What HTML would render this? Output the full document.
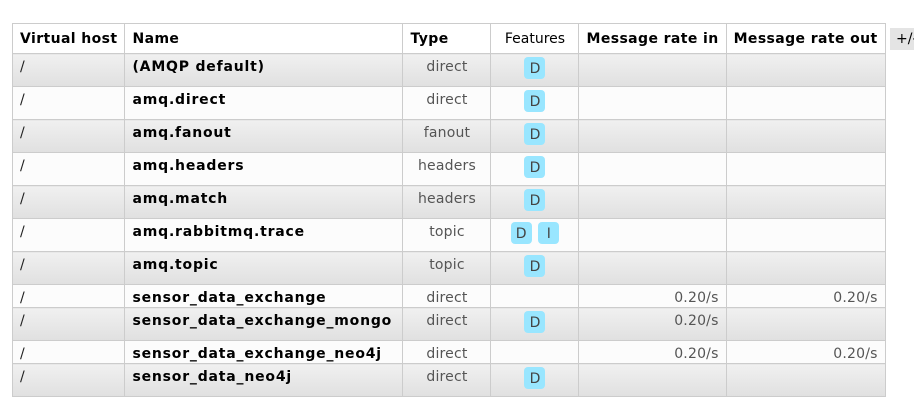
<!DOCTYPE html>
<html><head><style>
body{margin:0;width:914px;height:400px;background:#fff;font-family:"DejaVu Sans","Liberation Sans",sans-serif;font-size:14px;color:#222;position:relative;overflow:hidden}
table{position:absolute;left:12px;top:23px;border-collapse:collapse;table-layout:fixed}
td,th{border:1px solid #ccc;padding:0 7px;vertical-align:top;line-height:16px;padding-top:5px;overflow:hidden;white-space:nowrap;letter-spacing:0.2px}
th{height:23px;padding-top:7px;padding-bottom:0;text-align:left;background:#fff;color:#000;letter-spacing:0.4px;box-sizing:border-box}
tr.g td{background:linear-gradient(#f0f0f0,#e0e0e0)}
tr.w td{background:#fcfcfc}
td.n{font-weight:bold;color:#000;letter-spacing:0.8px}
td.t{text-align:center;color:#555}
td.r{text-align:right;color:#555}
td.f{text-align:center;padding-top:3px}
.b{display:inline-block;width:21px;height:22px;line-height:24px;background:#99e6ff;border-radius:4px;color:#444;text-align:center;margin:0 1px;letter-spacing:0}
tr.h33 td{height:27px}
tr.h24 td{height:17px}
.pm{position:absolute;left:890px;top:28px;width:30px;height:22px;background:#e4e4e4;line-height:22px;padding-left:6px;color:#000}
</style></head><body>
<table>
<colgroup><col style="width:112px"><col style="width:278px"><col style="width:88px"><col style="width:88px"><col style="width:145px"><col style="width:154px"></colgroup>
<tr style="height:30px"><th>Virtual host</th><th>Name</th><th>Type</th><th style="font-weight:normal;text-align:center;letter-spacing:0">Features</th><th>Message rate in</th><th>Message rate out</th></tr>
<tr class="g h33"><td>/</td><td class="n">(AMQP default)</td><td class="t">direct</td><td class="f"><span class="b">D</span></td><td></td><td></td></tr>
<tr class="w h33"><td>/</td><td class="n">amq.direct</td><td class="t">direct</td><td class="f"><span class="b">D</span></td><td></td><td></td></tr>
<tr class="g h33"><td>/</td><td class="n">amq.fanout</td><td class="t">fanout</td><td class="f"><span class="b">D</span></td><td></td><td></td></tr>
<tr class="w h33"><td>/</td><td class="n">amq.headers</td><td class="t">headers</td><td class="f"><span class="b">D</span></td><td></td><td></td></tr>
<tr class="g h33"><td>/</td><td class="n">amq.match</td><td class="t">headers</td><td class="f"><span class="b">D</span></td><td></td><td></td></tr>
<tr class="w h33"><td>/</td><td class="n">amq.rabbitmq.trace</td><td class="t">topic</td><td class="f"><span class="b">D</span> <span class="b">I</span></td><td></td><td></td></tr>
<tr class="g h33"><td>/</td><td class="n">amq.topic</td><td class="t">topic</td><td class="f"><span class="b">D</span></td><td></td><td></td></tr>
<tr class="w h24"><td>/</td><td class="n">sensor_data_exchange</td><td class="t">direct</td><td class="f"></td><td class="r">0.20/s</td><td class="r">0.20/s</td></tr>
<tr class="g h33"><td>/</td><td class="n">sensor_data_exchange_mongo</td><td class="t">direct</td><td class="f"><span class="b">D</span></td><td class="r">0.20/s</td><td></td></tr>
<tr class="w h24"><td>/</td><td class="n">sensor_data_exchange_neo4j</td><td class="t">direct</td><td class="f"></td><td class="r">0.20/s</td><td class="r">0.20/s</td></tr>
<tr class="g h33"><td>/</td><td class="n">sensor_data_neo4j</td><td class="t">direct</td><td class="f"><span class="b">D</span></td><td></td><td></td></tr>
</table>
<div class="pm">+/-</div>
</body></html>
